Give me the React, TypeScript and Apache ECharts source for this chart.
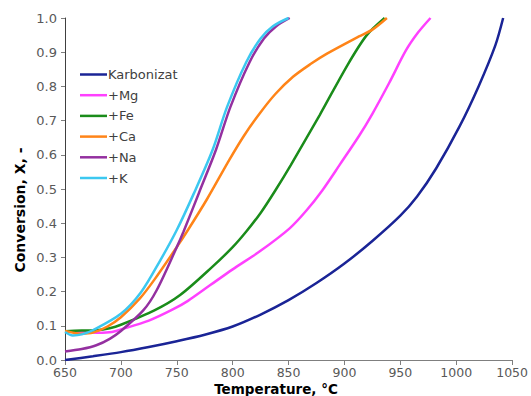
import React, { useEffect, useRef } from "react";
import * as echarts from "echarts";

// Conversion X vs temperature (°C) for the char and its metal-loaded variants
const karbonizat: [number, number][] = [
  [650, 0.0], [675, 0.011], [700, 0.023], [725, 0.038], [750, 0.055], [775, 0.074],
  [800, 0.098], [825, 0.133], [850, 0.175], [875, 0.225], [900, 0.282], [925, 0.348],
  [950, 0.422], [965, 0.478], [982, 0.56], [1003, 0.683], [1020, 0.8], [1035, 0.92],
  [1042, 1.0],
];
const mg: [number, number][] = [
  [650, 0.084], [665, 0.082], [680, 0.08], [692, 0.082], [700, 0.089], [725, 0.115],
  [746, 0.147], [760, 0.173], [780, 0.219], [800, 0.265], [824, 0.317], [851, 0.385],
  [866, 0.437], [880, 0.495], [896, 0.572], [913, 0.655], [925, 0.72], [940, 0.81],
  [955, 0.905], [966, 0.958], [977, 1.0],
];
const fe: [number, number][] = [
  [650, 0.084], [665, 0.086], [678, 0.087], [690, 0.093], [700, 0.103], [730, 0.145],
  [753, 0.19], [782, 0.273], [800, 0.33], [812, 0.375], [825, 0.43], [838, 0.495],
  [852, 0.57], [878, 0.717], [903, 0.864], [920, 0.95], [936, 1.0],
];
const ca: [number, number][] = [
  [650, 0.085], [657, 0.08], [665, 0.077], [675, 0.08], [688, 0.098], [700, 0.125],
  [717, 0.18], [730, 0.235], [750, 0.33], [760, 0.38], [777, 0.47], [797, 0.585],
  [810, 0.655], [824, 0.72], [838, 0.777], [854, 0.828], [870, 0.866], [884, 0.895],
  [913, 0.946], [925, 0.966], [938, 1.0],
];
const na: [number, number][] = [
  [650, 0.025], [665, 0.032], [678, 0.043], [690, 0.062], [700, 0.085], [720, 0.145],
  [732, 0.204], [750, 0.33], [756, 0.375], [770, 0.49], [785, 0.614], [798, 0.74],
  [815, 0.87], [828, 0.94], [839, 0.976], [851, 1.0],
];
const k: [number, number][] = [
  [650, 0.082], [657, 0.072], [665, 0.075], [675, 0.087], [700, 0.135], [718, 0.198],
  [735, 0.29], [750, 0.38], [765, 0.485], [782, 0.614], [795, 0.74], [812, 0.87],
  [825, 0.94], [836, 0.976], [850, 1.0],
];

const seriesNames = ["Karbonizat", "+Mg", "+Fe", "+Ca", "+Na", "+K"];
const seriesData = [karbonizat, mg, fe, ca, na, k];
const seriesColors = ["#1a2496", "#ff40ff", "#1a8c1a", "#ff8418", "#9430a0", "#3cc8f0"];

const xTitle = "Temperature, °C";
const yTitle = "Conversion, X, -";

const FONT = "'DejaVu Sans', sans-serif";

export default function App() {
  const ref = useRef<HTMLDivElement>(null);

  useEffect(() => {
    if (!ref.current) return;
    const chart = echarts.init(ref.current, undefined, { renderer: "svg" });
    chart.setOption({
      animation: false,
      backgroundColor: "#ffffff",
      grid: { left: 65, right: 18, top: 18, bottom: 36, containLabel: false },
      legend: {
        left: 75,
        top: 63,
        orient: "vertical",
        itemWidth: 27,
        itemHeight: 14,
        itemGap: 7.7,
        icon: "path://M0,6 L27,6 L27,8.5 L0,8.5 Z",
        textStyle: { fontFamily: FONT, fontSize: 13, color: "#404040", padding: [0, 0, 0, -4] },
        data: seriesNames,
      },
      xAxis: {
        type: "value",
        min: 650,
        max: 1050,
        interval: 50,
        splitLine: { show: false },
        axisLine: { lineStyle: { color: "#7f7f7f", width: 1 } },
        axisTick: { show: true, length: 5, lineStyle: { color: "#7f7f7f" } },
        axisLabel: {
          fontFamily: FONT,
          fontSize: 12.5,
          color: "#595959",
          margin: 6,
          formatter: (v: number) => String(v),
        },
      },
      yAxis: {
        type: "value",
        min: 0,
        max: 1,
        interval: 0.1,
        splitLine: { show: false },
        axisLine: { show: true, lineStyle: { color: "#404040", width: 1 } },
        axisTick: { show: true, length: 4, lineStyle: { color: "#7f7f7f" } },
        axisLabel: {
          fontFamily: FONT,
          fontSize: 13,
          color: "#595959",
          margin: 8,
          formatter: (v: number) => v.toFixed(1),
        },
      },
      graphic: [
        {
          type: "text",
          x: 276,
          y: 389,
          style: {
            text: xTitle,
            fontFamily: FONT,
            fontSize: 13.5,
            fontWeight: "bold",
            fill: "#000000",
            align: "center",
            verticalAlign: "middle",
          },
        },
        {
          type: "text",
          x: 20,
          y: 210,
          rotation: Math.PI / 2,
          style: {
            text: yTitle,
            fontFamily: FONT,
            fontSize: 14,
            fontWeight: "bold",
            fill: "#000000",
            align: "center",
            verticalAlign: "middle",
          },
        },
      ],
      series: seriesNames.map((name, i) => ({
        name,
        type: "line",
        data: seriesData[i],
        smooth: 0.3,
        showSymbol: false,
        symbol: "none",
        lineStyle: { color: seriesColors[i], width: 2.5 },
        itemStyle: { color: seriesColors[i] },
        clip: true,
      })),
    });
    return () => chart.dispose();
  }, []);

  return <div ref={ref} style={{ width: 531, height: 396, position: "absolute", left: 0, top: 0 }} />;
}
